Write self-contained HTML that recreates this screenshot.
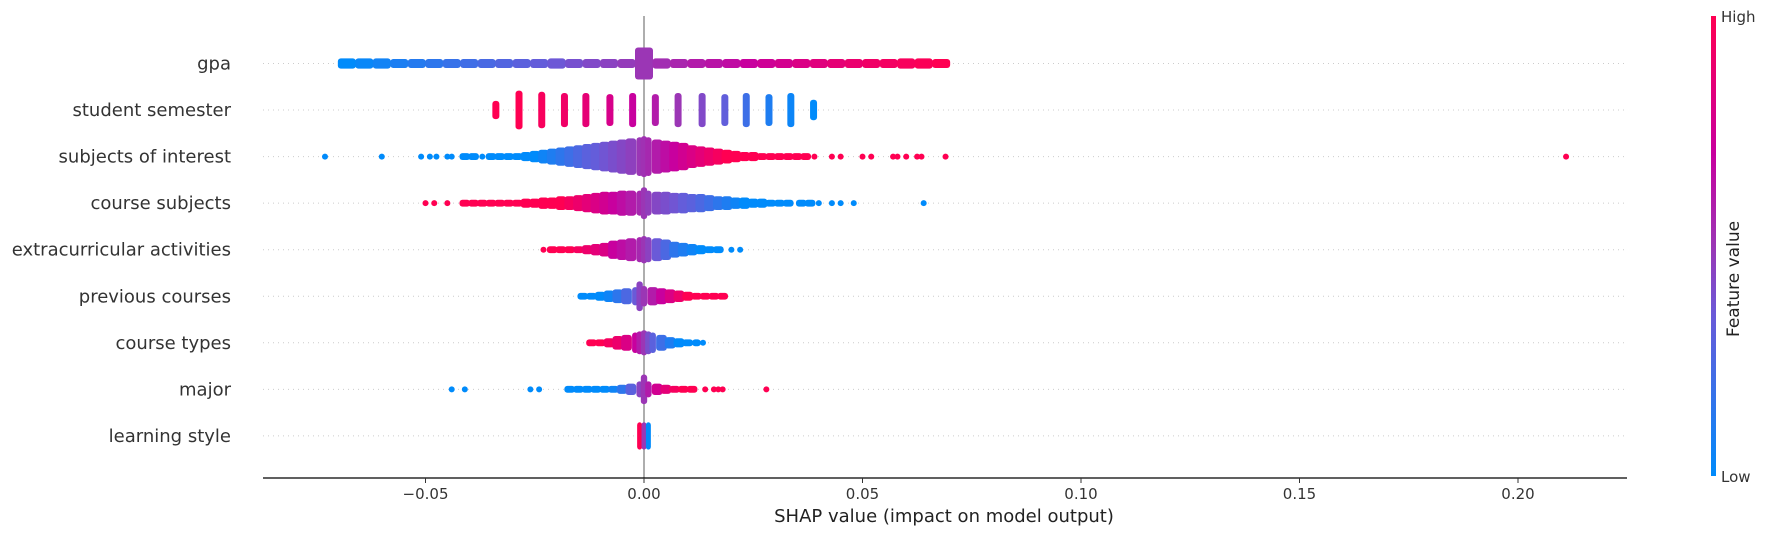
<!DOCTYPE html>
<html><head><meta charset="utf-8"><style>
body{margin:0;background:#fff;}
svg{display:block;font-family:"DejaVu Sans","Liberation Sans",sans-serif;}
</style></head><body>
<svg id="chart" width="1785" height="536" viewBox="0 0 1785 536" xmlns="http://www.w3.org/2000/svg">
<defs>
<linearGradient id="cbar" x1="0" y1="1" x2="0" y2="0">
<stop offset="0" stop-color="#008bfb"/><stop offset="0.35" stop-color="#6a5ad8"/><stop offset="0.5" stop-color="#9b36b5"/><stop offset="0.7" stop-color="#c8009e"/><stop offset="1" stop-color="#ff0052"/>
</linearGradient>
</defs>
<g id="grid"></g>
<g id="zero"></g>
<g id="marks"></g>
<g id="ylabels"></g>
<g id="xaxis"></g>
<text x="944" y="522" font-size="18" text-anchor="middle" fill="#222">SHAP value (impact on model output)</text>
<rect x="1711" y="16" width="5" height="460" fill="url(#cbar)"/>
<text x="1721" y="22" font-size="15" fill="#333">High</text>
<text x="1721" y="482" font-size="15" fill="#333">Low</text>
<text transform="translate(1739,279) rotate(-90)" font-size="17" text-anchor="middle" fill="#222">Feature value</text>
</svg>
<script>
const features = ["gpa","student semester","subjects of interest","course subjects","extracurricular activities","previous courses","course types","major","learning style"];
const xTicks = [-0.05,0,0.05,0.10,0.15,0.20];
const xTickLabels = ["\u22120.05","0.00","0.05","0.10","0.15","0.20"];

const gpaVals = [-68,-64,-60,-56,-52,-48,-44,-40,-36,-32,-28,-24,-20,-16,-12,-8,-4,0,4,8,12,16,20,24,28,32,36,40,44,48,52,56,60,64,68];
const gpaSpread = [4.5,4.5,4.5,4,4,4,4,4,4,4,4,4,4.5,4,4,4,4,14,4.5,4,4,4,4,4,4,4,4,4,4,4,4,4,4.5,4.5,4];
const gpaFeat = [0,.03,.06,.09,.12,.15,.18,.21,.24,.27,.3,.33,.36,.39,.42,.45,.48,.5,.53,.56,.6,.63,.66,.7,.73,.76,.8,.83,.86,.89,.92,.94,.96,.98,1];

const semVals = [-33.9,-28.6,-23.4,-18.2,-13.3,-7.8,-2.6,2.6,7.8,13.3,18.5,23.4,28.6,33.6,38.8];
const semSpread = [8,17,16,15,15,14,15,14,15,15,14,15,14,15,9];
const semFeat = [1,1,.96,.92,.86,.78,.7,.6,.5,.42,.32,.2,.1,.04,0];

const soiVals = [-73,-60,-51,-49,-47.5,-45,-44,-41,-39,-37,-35,-33,-31,-29,-27,-25,-23,-21,-19,-17,-15,-13,-11,-9,-7,-5,-3,-1,0,1,3,5,7,9,11,13,15,17,19,21,23,25,27,29,31,33,35,37,39,43,45,50,52,57,58,60,62.5,63.5,69,211];
const soiSpread = [0,0,0,0,0,0,0,3,3,0,3,3,3,3,4,5,6,7,8,9,10,11,12,13,14,15,16,17,18,17,15,14,13,12,10,9,8,7,6,5,4,4,3,3,3,3,3,3,0,0,0,0,0,0,0,0,0,0,0,0];
const soiFeat = [0,0,0,0,0,0,0,0,0,0,0,0,0,0,0,0,.05,.1,.15,.2,.25,.3,.33,.37,.4,.43,.46,.5,.52,.55,.6,.65,.7,.75,.8,.85,.9,.95,1,1,1,1,1,1,1,1,1,1,1,1,1,1,1,1,1,1,1,1,1,1];

const csVals = [-50,-48,-45,-41,-39,-37,-35,-33,-31,-29,-27,-25,-23,-21,-19,-17,-15,-13,-11,-9,-7,-5,-3,-1,0,1,3,5,7,9,11,13,15,17,19,21,23,25,27,29,31,33,36,38,40,43,45,48,64];
const csSpread = [0,0,0,3,3,3,3,3,3,3,4,4,5,5,6,6,7,8,9,10,10,11,11,11,14,11,10,10,9,9,8,8,7,6,6,5,5,4,4,3,3,3,3,3,0,0,0,0,0];
const csFeat = [1,1,1,1,1,1,1,1,1,1,1,1,1,1,1,.95,.9,.85,.8,.75,.7,.65,.6,.55,.5,.47,.43,.4,.37,.33,.3,.25,.2,.15,.1,.05,0,0,0,0,0,0,0,0,0,0,0,0,0];

const exVals = [-23,-21,-19,-17,-15,-13,-11,-9,-7,-5,-3,-1,0,1,3,5,7,9,11,13,15,17,20,22];
const exSpread = [0,3,3,3,3,4,5,6,8,9,10,11,12,11,10,9,7,6,5,4,3,3,0,0];
const exFeat = [1,1,1,1,.95,.9,.85,.8,.7,.65,.6,.55,.5,.45,.35,.25,.15,.1,.05,0,0,0,0,0];

const pcVals = [-14,-12,-10,-8,-6,-4,-2,-1,0,2,4,6,8,10,12,14,16,18];
const pcSpread = [3,3,4,5,6,7,8,13,9,8,7,6,5,4,3,3,3,3];
const pcFeat = [0,0,0,.05,.15,.25,.35,.45,.5,.6,.7,.8,.9,1,1,1,1,1];

const ctVals = [-12,-10,-8,-6,-4,-2,-1,0,1,2,4,6,8,10,12,13.5];
const ctSpread = [3,3,4,6,7,9,10,11,10,9,7,5,4,3,3,0];
const ctFeat = [1,1,.95,.9,.8,.7,.6,.5,.4,.3,.2,.1,0,0,0,0];

const mjVals = [-44,-41,-26,-24,-17,-15,-13,-11,-9,-7,-5,-3,-1,0,1,3,5,7,9,11,14,16,17,18,28];
const mjSpread = [0,0,0,0,3,3,3,3,3,3,4,5,7,13,7,5,4,3,3,3,0,0,0,0,0];
const mjFeat = [0,0,0,0,0,0,0,0,0,.05,.15,.3,.45,.5,.6,.75,.85,.95,1,1,1,1,1,1,1];

const lsVals = [-1,0,1];
const lsSpread = [12,12,12];
const lsFeat = [1,0.5,0];

const NS = "http://www.w3.org/2000/svg";
const X0 = 644, PXU = 4370, ROW0 = 63.5, ROWSTEP = 46.55, SY = 1.14;
const AXL = 263, AXR = 1627, AXY = 478;
function xs(v){ return X0 + v*PXU; }
function ys(i){ return ROW0 + i*ROWSTEP; }
const stops = [[0,[0,139,251]],[0.35,[106,90,216]],[0.5,[155,54,181]],[0.7,[200,0,158]],[1,[255,0,82]]];
function cmap(t){
  for(let k=1;k<stops.length;k++){
    if(t<=stops[k][0]){
      const a=stops[k-1],b=stops[k],f=(t-a[0])/(b[0]-a[0]);
      const c=a[1].map((v,j)=>Math.round(v+(b[1][j]-v)*f));
      return `rgb(${c[0]},${c[1]},${c[2]})`;
    }
  }
  return "rgb(255,0,82)";
}
function mk(tag, attrs, parent){
  const e=document.createElementNS(NS,tag);
  for(const k in attrs) e.setAttribute(k,attrs[k]);
  parent.appendChild(e); return e;
}
const grid=document.getElementById('grid'), marks=document.getElementById('marks'), ylab=document.getElementById('ylabels'), xax=document.getElementById('xaxis');

features.forEach((f,i)=>{
  const g=mk('line',{x1:AXL,x2:AXR,y1:ys(i),y2:ys(i),stroke:'#ccc','stroke-width':1,'stroke-dasharray':'1,4'},grid);
  
  
  const t=mk('text',{x:231,y:ys(i)+6,'font-size':18,'text-anchor':'end',fill:'#333'},ylab);
  t.textContent=f;
  
  
});

const z=mk('line',{x1:X0,x2:X0,y1:16,y2:AXY,stroke:'#999','stroke-width':1.6},document.getElementById('zero'));



const rows=[[gpaVals,gpaSpread,gpaFeat],[semVals,semSpread,semFeat],[soiVals,soiSpread,soiFeat],[csVals,csSpread,csFeat],[exVals,exSpread,exFeat],[pcVals,pcSpread,pcFeat],[ctVals,ctSpread,ctFeat],[mjVals,mjSpread,mjFeat],[lsVals,lsSpread,lsFeat]];
rows.forEach((r,i)=>{
  const [vals,spr,feat]=r;
  const cy=ys(i);
  vals.forEach((v,k)=>{
    const cx=xs(v/1000);
    let w;
    if(i===1) w=7;
    else if(spr[k]===0) w=6;
    else {
      const dl=k>0?cx-xs(vals[k-1]/1000):99, dr=k<vals.length-1?xs(vals[k+1]/1000)-cx:99;
      w=Math.max(6,Math.min(18,Math.min(dl,dr)+2));
      if(i===8) w=5;
    }
    const h=Math.max(6,2*spr[k]*SY);
    const el=mk('rect',{x:cx-w/2,y:cy-h/2,width:w,height:h,rx:3,ry:3,fill:cmap(feat[k])},marks);
    
    
  });
});

const axl=mk('line',{x1:AXL,x2:AXR,y1:AXY,y2:AXY,stroke:'#000','stroke-width':1.2},xax);


xTicks.forEach((v,k)=>{
  const tk=mk('line',{x1:xs(v),x2:xs(v),y1:AXY,y2:AXY+5,stroke:'#333','stroke-width':1},xax);
  
  
  const tl=mk('text',{x:xs(v),y:AXY+21,'font-size':15,'text-anchor':'middle',fill:'#333'},xax);
  tl.textContent=xTickLabels[k];
  
  
});
</script>
</body></html>
